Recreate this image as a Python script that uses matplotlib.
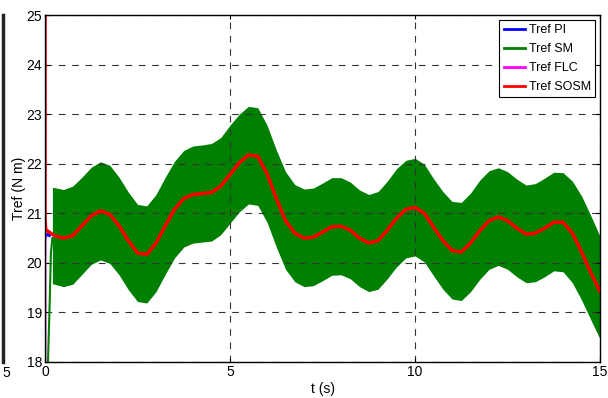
import matplotlib
matplotlib.use('Agg')
import matplotlib.pyplot as plt
import matplotlib.transforms as mtransforms
import numpy as np

# sample times (s) of the values
t = np.arange(0, 15.001, 0.25)

# Tref SOSM (N m), red
sosm = [20.67, 20.55, 20.50, 20.55, 20.75, 20.95, 21.05, 20.98, 20.75, 20.45,
        20.20, 20.17, 20.40, 20.75, 21.08, 21.30, 21.38, 21.40, 21.42, 21.55,
        21.78, 22.02, 22.18, 22.15, 21.80, 21.30, 20.85, 20.60, 20.50, 20.52,
        20.62, 20.73, 20.74, 20.66, 20.50, 20.40, 20.45, 20.66, 20.90, 21.08,
        21.12, 21.00, 20.72, 20.45, 20.25, 20.22, 20.40, 20.65, 20.85, 20.93,
        20.85, 20.70, 20.58, 20.60, 20.70, 20.82, 20.82, 20.60, 20.22, 19.80,
        19.42]
# start-up spike of SOSM at t=0
sosm_start_t = [0.0, 0.0, 0.02]
sosm_start = [26.0, 20.9, 20.67]

# Tref SM chattering band (upper / lower envelope), green
sm_t = np.concatenate([[0.2], t[1:]])
sm_upper = [21.52, 21.52, 21.48, 21.55, 21.73, 21.93, 22.04, 21.97, 21.73, 21.43,
            21.18, 21.15, 21.38, 21.73, 22.05, 22.27, 22.36, 22.38, 22.41, 22.53,
            22.78, 23.00, 23.16, 23.13, 22.78, 22.28, 21.84, 21.58, 21.49, 21.51,
            21.61, 21.72, 21.72, 21.63, 21.47, 21.38, 21.44, 21.65, 21.90, 22.07,
            22.11, 21.99, 21.70, 21.44, 21.24, 21.22, 21.41, 21.67, 21.86, 21.92,
            21.84, 21.69, 21.57, 21.60, 21.71, 21.83, 21.82, 21.65, 21.35, 20.95,
            20.53]
sm_lower = [19.58, 19.57, 19.52, 19.57, 19.77, 19.97, 20.06, 19.99, 19.76, 19.46,
            19.22, 19.19, 19.42, 19.77, 20.10, 20.32, 20.40, 20.42, 20.44, 20.57,
            20.80, 21.03, 21.19, 21.16, 20.82, 20.32, 19.87, 19.62, 19.52, 19.54,
            19.64, 19.75, 19.76, 19.68, 19.52, 19.42, 19.47, 19.68, 19.92, 20.10,
            20.14, 20.02, 19.74, 19.47, 19.27, 19.24, 19.42, 19.67, 19.87, 19.95,
            19.87, 19.72, 19.60, 19.62, 19.72, 19.84, 19.82, 19.60, 19.25, 18.85,
            18.46]
# SM start-up rise
sm_start_t = [0.08, 0.12, 0.16, 0.2]
sm_start = [18.0, 19.0, 20.2, 20.5]

# Tref PI and FLC start-up (hidden under SOSM afterwards)
pi_t = [0.0, 0.03, 0.08, 0.12]
pi_v = [20.5, 20.55, 20.58, 20.55]
flc_t = [0.0, 0.0, 0.03]
flc_v = [18.0, 20.6, 20.65]

plt.rcParams['font.family'] = ['Liberation Sans', 'DejaVu Sans']
fig = plt.figure(figsize=(6.08, 3.98), dpi=100)

# cut-off neighbour plot on the far left
axl = fig.add_axes([-0.3, 0.0905, 0.3 + 3 / 608, 0.8715])
axl.set_xlim(0, 15)
axl.set_ylim(18, 25)
axl.set_xticks([15])
axl.set_xticklabels(['5'], fontsize=10)
axl.set_yticks([])
for s in ['left', 'top', 'bottom']:
    axl.spines[s].set_visible(False)
axl.spines['right'].set_linewidth(2.5)
axl.spines['right'].set_color('#222222')
axl.tick_params(axis='x', length=0, pad=3)
off = mtransforms.ScaledTranslation(3 / 100, 0, fig.dpi_scale_trans)
for lab in axl.get_xticklabels():
    lab.set_transform(lab.get_transform() + off)

ax = fig.add_axes([0.074, 0.0905, 0.913, 0.8715])
ax.fill_between(sm_t, sm_lower, sm_upper, color='#007f00', lw=0)
ax.plot(sm_start_t, sm_start, color='#007f00', lw=1.5)
ax.plot(pi_t, pi_v, color='#0000ff', lw=2)
ax.plot(flc_t, flc_v, color='#ff00ff', lw=2)
ax.plot(sosm_start_t + list(t[1:]), sosm_start + sosm[1:], color='#ff0000', lw=2.5)

# legend handles
ax.plot([], [], color='#0000ff', lw=2, label='Tref PI')
ax.plot([], [], color='#007f00', lw=2, label='Tref SM')
ax.plot([], [], color='#ff00ff', lw=2, label='Tref FLC')
ax.plot([], [], color='#ff0000', lw=2, label='Tref SOSM')

ax.set_xlim(0, 15)
ax.set_ylim(18, 25)
ax.set_xticks([0, 5, 10, 15])
ax.set_yticks(range(18, 26))
ax.grid(True, color='#333333', linestyle=(0, (6, 6)), lw=0.8)
ax.tick_params(direction='in', length=3, top=True, right=True, labelsize=10, pad=2)
for s in ax.spines.values():
    s.set_linewidth(1)
ax.set_xlabel('t (s)', fontsize=10, labelpad=2)
ax.set_ylabel('Tref (N m)', fontsize=10, labelpad=0)

h, l = ax.get_legend_handles_labels()
leg = ax.legend(h[-4:], l[-4:], loc='upper right', fontsize=9, fancybox=False,
                framealpha=1, edgecolor='black', handlelength=1.7,
                handletextpad=0.3, labelspacing=0.55, borderaxespad=0.4,
                borderpad=0.35)
leg.get_frame().set_linewidth(0.8)

fig.savefig('out.png', dpi=100)
